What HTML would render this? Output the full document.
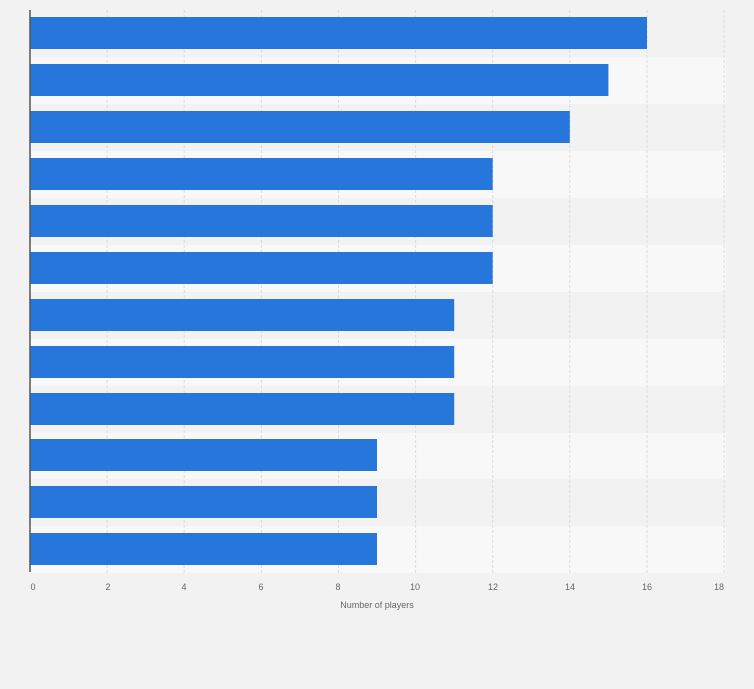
<!DOCTYPE html>
<html><head><style>
body{margin:0;background:#f2f2f2;}
svg{display:block;font-family:"Liberation Sans",sans-serif;}
</style></head><body>
<svg width="754" height="689" viewBox="0 0 754 689">
<rect width="754" height="689" fill="#f2f2f2"/>
<g id="rows">
<rect x="30" y="10" width="696" height="47" fill="#f2f2f2"/>
<rect x="30" y="57" width="696" height="47" fill="#f8f8f8"/>
<rect x="30" y="104" width="696" height="47" fill="#f2f2f2"/>
<rect x="30" y="151" width="696" height="47" fill="#f8f8f8"/>
<rect x="30" y="198" width="696" height="47" fill="#f2f2f2"/>
<rect x="30" y="245" width="696" height="47" fill="#f8f8f8"/>
<rect x="30" y="292" width="696" height="47" fill="#f2f2f2"/>
<rect x="30" y="339" width="696" height="47" fill="#f8f8f8"/>
<rect x="30" y="386" width="696" height="47" fill="#f2f2f2"/>
<rect x="30" y="433" width="696" height="46" fill="#f8f8f8"/>
<rect x="30" y="479" width="696" height="47" fill="#f2f2f2"/>
<rect x="30" y="526" width="696" height="47" fill="#f8f8f8"/>
</g>
<g stroke="#dcdcdc" stroke-width="1" stroke-dasharray="3,2">
<line x1="107.1" y1="10" x2="107.1" y2="573"/>
<line x1="184.2" y1="10" x2="184.2" y2="573"/>
<line x1="261.4" y1="10" x2="261.4" y2="573"/>
<line x1="338.5" y1="10" x2="338.5" y2="573"/>
<line x1="415.6" y1="10" x2="415.6" y2="573"/>
<line x1="492.7" y1="10" x2="492.7" y2="573"/>
<line x1="569.8" y1="10" x2="569.8" y2="573"/>
<line x1="647" y1="10" x2="647" y2="573"/>
<line x1="724.1" y1="10" x2="724.1" y2="573"/>
</g>
<g fill="#2776dc">
<rect x="30" y="17" width="617" height="32"/>
<rect x="30" y="64" width="578.4" height="32"/>
<rect x="30" y="111" width="539.8" height="32"/>
<rect x="30" y="158" width="462.7" height="32"/>
<rect x="30" y="205" width="462.7" height="32"/>
<rect x="30" y="252" width="462.7" height="32"/>
<rect x="30" y="299" width="424.2" height="32"/>
<rect x="30" y="346" width="424.2" height="32"/>
<rect x="30" y="393" width="424.2" height="32"/>
<rect x="30" y="439" width="347" height="32"/>
<rect x="30" y="486" width="347" height="32"/>
<rect x="30" y="533" width="347" height="32"/>
</g>
<line x1="30" y1="10" x2="30" y2="572" stroke="#555" stroke-width="1.5"/>
<g font-size="9" fill="#666" text-anchor="middle">
<text x="33" y="590">0</text>
<text x="108" y="590">2</text>
<text x="184" y="590">4</text>
<text x="261" y="590">6</text>
<text x="338" y="590">8</text>
<text x="415" y="590">10</text>
<text x="493" y="590">12</text>
<text x="570" y="590">14</text>
<text x="647" y="590">16</text>
<text x="719" y="590">18</text>
<text x="377" y="608">Number of players</text>
</g>
</svg>
</body></html>
